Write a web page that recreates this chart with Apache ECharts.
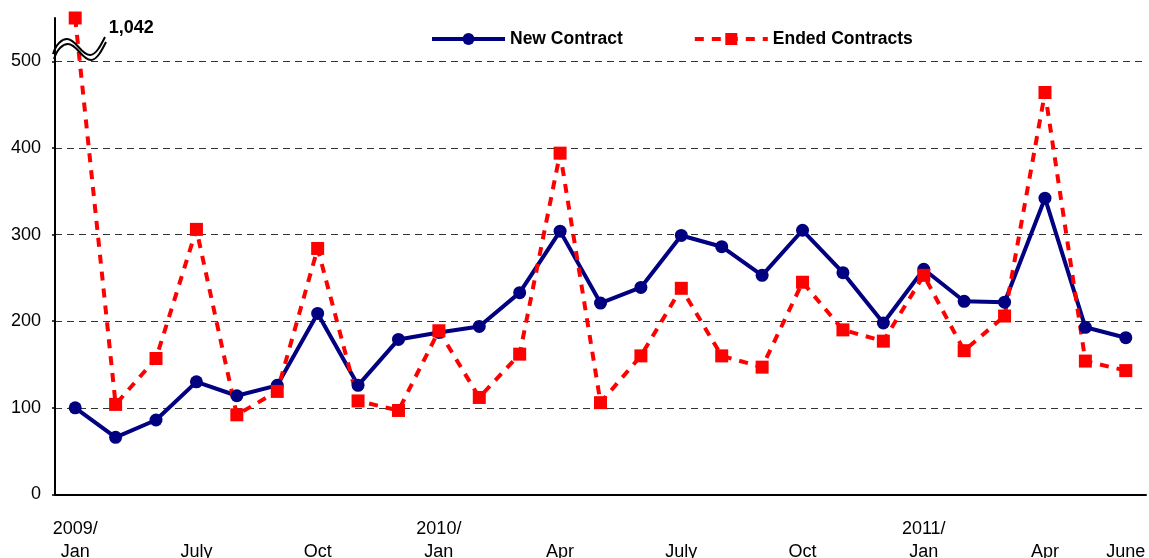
<!DOCTYPE html>
<html>
<head>
<meta charset="utf-8">
<title>New and Ended Contracts</title>
<script src="https://cdn.jsdelivr.net/npm/echarts@6/dist/echarts.min.js"></script>
<style>
  html, body { margin: 0; padding: 0; background: #fff; }
  #chart { width: 1149px; height: 558px; }
</style>
</head>
<body>
<div id="chart"></div>
<script>
// months on the x axis (one point each)
const months = [
  '2009/Jan', '2009/Mar', '2009/May', '2009/July', '2009/Aug', '2009/Sep',
  '2009/Oct', '2009/Nov', '2009/Dec', '2010/Jan', '2010/Feb', '2010/Mar',
  '2010/Apr', '2010/May', '2010/June', '2010/July', '2010/Aug', '2010/Sep',
  '2010/Oct', '2010/Nov', '2010/Dec', '2011/Jan', '2011/Feb', '2011/Mar',
  '2011/Apr', '2011/May', '2011/June'
];
// what is printed under each month
const tickLabels = [
  '2009/\nJan', '', '', '\nJuly', '', '', '\nOct', '', '', '2010/\nJan', '', '',
  '\nApr', '', '', '\nJuly', '', '', '\nOct', '', '', '2011/\nJan', '', '',
  '\nApr', '', '\nJune'
];
const newContract = [
  100, 66, 86, 130, 114, 126, 209, 126, 179, 187, 194, 233, 304, 221,
  239, 299, 286, 253, 305, 256, 198, 260, 223, 222, 342, 193, 181
];
const endedContracts = [
  1042, 104, 157, 306, 92, 119, 284, 108, 97, 189, 112, 162, 394, 106,
  160, 238, 160, 147, 245, 190, 177, 253, 166, 206, 464, 154, 143
];
const yTicks = [0, 100, 200, 300, 400, 500];
const yMax = 550; // values above this are drawn at the top with the real number

const chart = echarts.init(document.getElementById('chart'));
const fontFamily = 'Arial, "Liberation Sans", sans-serif';

// points that go off the scale sit on the top edge, labelled with their value
const endedData = endedContracts.map(v => v > yMax ? {
  value: yMax,
  label: {
    show: true,
    position: 'right',
    distance: 27,
    offset: [0, 10],
    formatter: v.toLocaleString('en-US'),
    color: '#000',
    fontWeight: 'bold',
    fontSize: 18,
    fontFamily: fontFamily
  }
} : v);

// axis break mark: two wavy strokes across the top of the y axis
const breakCurve = (dx, dy) => [
  [53, 54, 56, 44, 62, 39, 67, 39],
  [67, 39, 76, 39, 81, 55, 90, 55],
  [90, 55, 96, 55, 101, 45, 105, 37]
].map(p => ({
  type: 'bezierCurve',
  shape: {
    x1: p[0] + dx, y1: p[1] + dy,
    cpx1: p[2] + dx, cpy1: p[3] + dy,
    cpx2: p[4] + dx, cpy2: p[5] + dy,
    x2: p[6] + dx, y2: p[7] + dy
  },
  style: { fill: null, stroke: '#000', lineWidth: 2 },
  z: 10
}));

const option = {
  backgroundColor: '#fff',
  animation: false,
  grid: {
    left: 55,
    right: 3,
    top: 18,
    bottom: 63.5,
    containLabel: false,
    outerBoundsMode: 'none'
  },
  legend: {
    left: 430,
    top: 30,
    padding: 0,
    itemWidth: 73,
    itemHeight: 15,
    itemGap: 70,
    lineStyle: { width: 4 },
    textStyle: {
      color: '#000',
      fontWeight: 'bold',
      fontSize: 17.5,
      fontFamily: fontFamily
    },
    data: ['New Contract', 'Ended Contracts']
  },
  xAxis: {
    type: 'category',
    data: months,
    boundaryGap: true,
    axisLine: { lineStyle: { color: '#000', width: 2 } },
    axisTick: { show: false },
    axisLabel: {
      interval: 0,
      margin: 23,
      color: '#000',
      fontSize: 18,
      lineHeight: 23,
      fontFamily: fontFamily,
      formatter: (v, i) => tickLabels[i]
    },
    splitLine: { show: false }
  },
  yAxis: {
    type: 'value',
    min: yTicks[0],
    max: yMax,
    interval: 100,
    axisLine: { show: true, lineStyle: { color: '#000', width: 2 } },
    axisTick: { show: true, length: 3, lineStyle: { color: '#000', width: 1.5 } },
    axisLabel: {
      margin: 14,
      color: '#000',
      fontSize: 18,
      fontFamily: fontFamily,
      showMaxLabel: false
    },
    splitLine: {
      show: true,
      showMinLine: false,
      showMaxLine: false,
      lineStyle: { color: '#333', width: 1, type: [7, 5] }
    }
  },
  graphic: breakCurve(0, 0).concat(breakCurve(1, 5)),
  series: [
    {
      name: 'New Contract',
      type: 'line',
      data: newContract,
      symbol: 'circle',
      symbolSize: 13,
      color: '#000080',
      lineStyle: { color: '#000080', width: 4 },
      itemStyle: { color: '#000080' },
      clip: false
    },
    {
      name: 'Ended Contracts',
      type: 'line',
      data: endedData,
      symbol: 'rect',
      symbolSize: 13,
      color: '#ff0000',
      lineStyle: { color: '#ff0000', width: 4, type: [9, 8] },
      itemStyle: { color: '#ff0000' },
      clip: false
    }
  ]
};

chart.setOption(option);
</script>
</body>
</html>
